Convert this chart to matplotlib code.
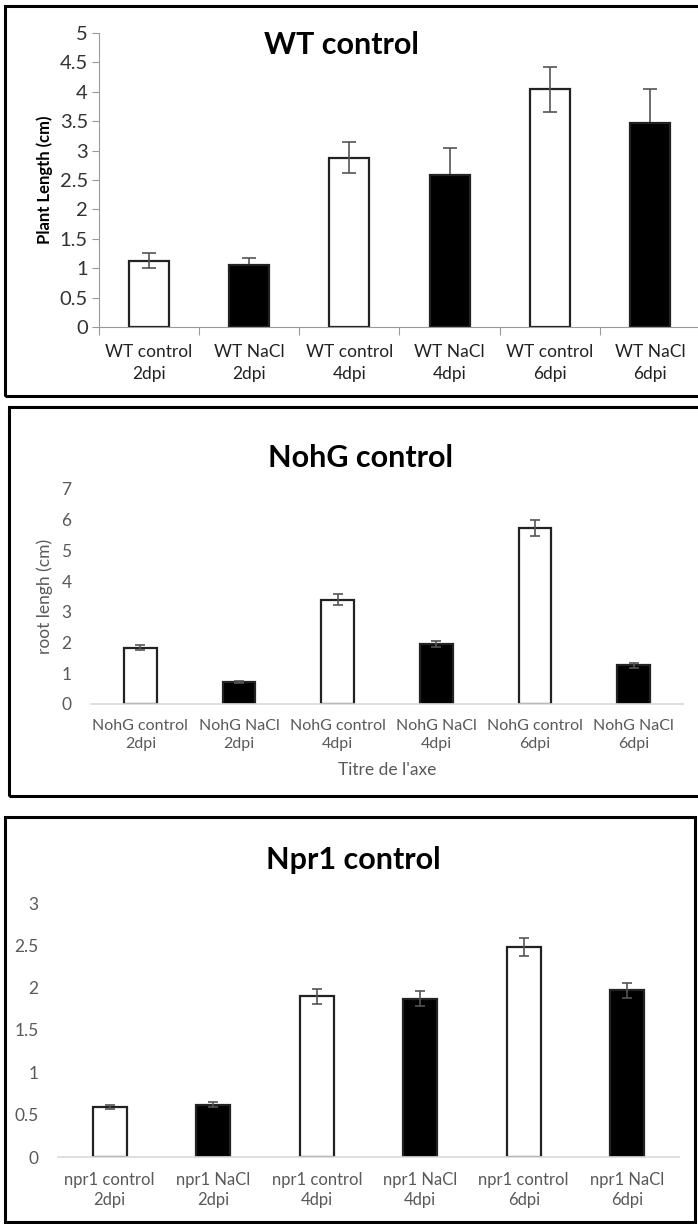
import matplotlib
matplotlib.use("Agg")
import matplotlib.pyplot as plt
from matplotlib.patches import Rectangle

plt.rcParams['font.family'] = ['Lato', 'DejaVu Sans']

# --- DATA ---
wt_labels = ["WT control\n2dpi", "WT NaCl\n2dpi", "WT control\n4dpi",
             "WT NaCl\n4dpi", "WT control\n6dpi", "WT NaCl\n6dpi"]
wt_values = [1.13, 1.05, 2.88, 2.59, 4.04, 3.47]
wt_errors = [0.12, 0.12, 0.26, 0.45, 0.38, 0.58]

nohg_labels = ["NohG control\n2dpi", "NohG NaCl\n2dpi", "NohG control\n4dpi",
               "NohG NaCl\n4dpi", "NohG control\n6dpi", "NohG NaCl\n6dpi"]
nohg_values = [1.83, 0.72, 3.40, 1.95, 5.72, 1.26]
nohg_errors = [0.08, 0.03, 0.17, 0.10, 0.26, 0.08]

npr1_labels = ["npr1 control\n2dpi", "npr1 NaCl\n2dpi", "npr1 control\n4dpi",
               "npr1 NaCl\n4dpi", "npr1 control\n6dpi", "npr1 NaCl\n6dpi"]
npr1_values = [0.59, 0.62, 1.90, 1.87, 2.48, 1.97]
npr1_errors = [0.02, 0.03, 0.09, 0.09, 0.11, 0.09]

fill_colors = ["white", "black", "white", "black", "white", "black"]

W, H = 698, 1224
fig = plt.figure(figsize=(W / 100, H / 100), dpi=100)


def px_axes(x0, y0, x1, y1):
    # pixel box (top-left origin) -> figure axes
    return fig.add_axes([x0 / W, 1 - y1 / H, (x1 - x0) / W, (y1 - y0) / H])


def frame(x0, y0, x1, y1, color="black", lw=2.2):
    fig.patches.append(Rectangle((x0 / W, 1 - y1 / H), (x1 - x0) / W, (y1 - y0) / H,
                                 transform=fig.transFigure, fill=False,
                                 edgecolor=color, linewidth=lw, zorder=10))


# --- panel 1: WT (old excel style) ---
frame(5, 6, 699, 396)
ax1 = px_axes(99, 33, 700, 327)
x = range(len(wt_values))
bars = ax1.bar(x, wt_values, width=0.4, color=fill_colors, edgecolor="#222222", linewidth=1.6, zorder=1)
ax1.errorbar(x, wt_values, yerr=wt_errors, fmt="none", ecolor="#555555",
             elinewidth=1.2, capsize=5, capthick=1.2, zorder=2)
# black bars hide the lower whisker in this panel
for b, c in zip(bars, fill_colors):
    if c == "black":
        b.set_zorder(3)
ax1.set_xlim(-0.5, 5.5)
ax1.set_ylim(0, 5)
ax1.set_yticks([0, 0.5, 1, 1.5, 2, 2.5, 3, 3.5, 4, 4.5, 5])
ax1.set_yticklabels(["0", "0.5", "1", "1.5", "2", "2.5", "3", "3.5", "4", "4.5", "5"])
ax1.set_xticks([i - 0.5 for i in range(6)], minor=False)
ax1.set_xticklabels([])
ax1.set_xticks(list(x), minor=True)
ax1.set_xticklabels(wt_labels, minor=True, fontsize=12.5, color="#222222", linespacing=1.45)
ax1.tick_params(axis="x", which="minor", length=0, pad=12)
ax1.tick_params(axis="x", which="major", length=6, color="#999999", direction="out")
ax1.tick_params(axis="y", length=5, color="#999999", labelsize=14.5, labelcolor="#333333", pad=3)
for s in ["top", "right"]:
    ax1.spines[s].set_visible(False)
ax1.spines["left"].set_color("#999999")
ax1.spines["bottom"].set_color("#999999")
ax1.set_ylabel("Plant Length (cm)", fontsize=12, fontweight="bold", labelpad=5)
fig.text(341 / W, 1 - 45 / H, "WT control", fontsize=22, fontweight="bold",
         ha="center", va="center")

# --- panel 2: NohG ---
frame(9, 407, 699, 796)
ax2 = px_axes(91, 489, 683, 704)
x = range(len(nohg_values))
ax2.bar(x, nohg_values, width=0.33, color=fill_colors, edgecolor="#222222", linewidth=1.6, zorder=2)
ax2.errorbar(x, nohg_values, yerr=nohg_errors, fmt="none", ecolor="#555555",
             elinewidth=1.2, capsize=3.5, capthick=1.2, zorder=3)
ax2.set_xlim(-0.5, 5.5)
ax2.set_ylim(0, 7)
ax2.set_yticks(range(8))
ax2.set_xticks(list(x))
ax2.set_xticklabels(nohg_labels, fontsize=11.5, color="#595959", linespacing=1.35)
ax2.tick_params(axis="x", length=0, pad=11)
ax2.tick_params(axis="y", length=0, labelsize=12.5, labelcolor="#595959", pad=14)
for s in ["top", "right", "left"]:
    ax2.spines[s].set_visible(False)
ax2.spines["bottom"].set_color("#d9d9d9")
ax2.spines["bottom"].set_linewidth(1.2)
ax2.set_ylabel("root lengh (cm)", fontsize=12.5, color="#595959", labelpad=6)
ax2.set_xlabel("Titre de l'axe", fontsize=12.5, color="#595959", labelpad=8)
fig.text(360 / W, 1 - 458 / H, "NohG control", fontsize=22, fontweight="bold",
         ha="center", va="center")

# --- panel 3: npr1 ---
frame(5, 817, 695, 1222)
ax3 = px_axes(58, 903, 679, 1157)
x = range(len(npr1_values))
ax3.bar(x, npr1_values, width=0.33, color=fill_colors, edgecolor="#222222", linewidth=1.6, zorder=2)
ax3.errorbar(x, npr1_values, yerr=npr1_errors, fmt="none", ecolor="#555555",
             elinewidth=1.2, capsize=3.5, capthick=1.2, zorder=3)
ax3.set_xlim(-0.5, 5.5)
ax3.set_ylim(0, 3)
ax3.set_yticks([0, 0.5, 1, 1.5, 2, 2.5, 3])
ax3.set_yticklabels(["0", "0.5", "1", "1.5", "2", "2.5", "3"])
ax3.set_xticks(list(x))
ax3.set_xticklabels(npr1_labels, fontsize=12, color="#595959", linespacing=1.25)
ax3.tick_params(axis="x", length=0, pad=11)
ax3.tick_params(axis="y", length=0, labelsize=12.5, labelcolor="#595959", pad=14)
for s in ["top", "right", "left"]:
    ax3.spines[s].set_visible(False)
ax3.spines["bottom"].set_color("#d9d9d9")
ax3.spines["bottom"].set_linewidth(1.2)
fig.text(353 / W, 1 - 860 / H, "Npr1 control", fontsize=22, fontweight="bold",
         ha="center", va="center")

fig.savefig("out.png", dpi=100)
